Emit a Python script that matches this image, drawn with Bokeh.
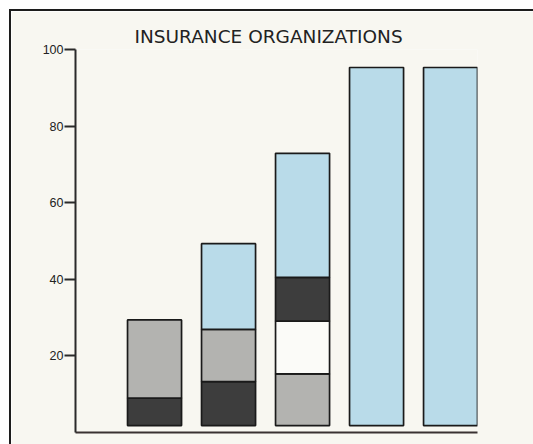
from bokeh.plotting import figure
from bokeh.models import ColumnDataSource, FixedTicker, Range1d
from bokeh.embed import file_html
from bokeh.resources import INLINE

# ---- data ----
groups = ["1", "2", "3", "4", "5"]
dark = [7.2, 11.5, 11.4, 0.0, 0.0]
gray = [20.4, 13.6, 13.5, 0.0, 0.0]
white = [0.0, 0.0, 13.8, 0.0, 0.0]
blue = [0.0, 22.4, 32.4, 93.5, 93.5]
stack_order = [["dark", "gray"], ["dark", "gray", "blue"],
               ["gray", "white", "dark", "blue"], ["blue"], ["blue"]]
y_ticks = [20, 40, 60, 80, 100]
title_text = "INSURANCE ORGANIZATIONS"
base = 1.8

series = {"dark": dark, "gray": gray, "white": white, "blue": blue}
colors = {"dark": "#3d3d3d", "gray": "#b3b3b0", "white": "#fbfbf8", "blue": "#b9dbe9"}

xs, bottoms, tops, fills = [], [], [], []
for i, g in enumerate(groups):
    cur = base
    for name in stack_order[i]:
        v = series[name][i]
        xs.append(i + 1)
        bottoms.append(cur)
        tops.append(cur + v)
        fills.append(colors[name])
        cur += v

src = ColumnDataSource(dict(x=xs, bottom=bottoms, top=tops, color=fills))

BG = "#f8f7f1"
p = figure(frame_width=402, frame_height=383, output_backend="svg", toolbar_location=None,
           x_range=Range1d(-0.068, 5.364), y_range=Range1d(0, 100),
           min_border_left=64, min_border_top=38, min_border_right=56, min_border_bottom=12,
           background_fill_color=BG, border_fill_color=BG, outline_line_color=None)
p.styles = {"margin-left": "9px", "margin-top": "9px",
            "border-top": "2px solid #1c1c1c", "border-left": "2px solid #1c1c1c"}

p.vbar(x="x", width=0.73, bottom="bottom", top="top", fill_color="color",
       line_color="#1a1a1a", line_width=1.7, source=src)

p.grid.visible = False

p.title.text = title_text
p.title.align = "left"
p.title.offset = 59
p.title.text_font = "DejaVu Sans"
p.title.text_font_size = "18.5px"
p.title.text_font_style = "normal"
p.title.text_color = "#222222"
p.title.standoff = 6

ya = p.yaxis[0]
ya.ticker = FixedTicker(ticks=y_ticks)
ya.minor_tick_line_color = None
ya.major_tick_in = 0
ya.major_tick_out = 11
ya.major_tick_line_width = 2
ya.major_tick_line_color = "#2a2a2a"
ya.axis_line_width = 2
ya.axis_line_color = "#2a2a2a"
ya.major_label_standoff = 1
ya.major_label_text_font = "Liberation Sans"
ya.major_label_text_font_size = "12.5px"
ya.major_label_text_color = "#222222"

xa = p.xaxis[0]
xa.ticker = FixedTicker(ticks=[])
xa.minor_tick_line_color = None
xa.major_tick_line_color = None
xa.axis_line_width = 2
xa.axis_line_color = "#3a3232"

html = file_html(p, INLINE)
html = html.replace("<body>", '<body style="background:%s;overflow:hidden">' % BG, 1)
open("out.html", "w").write(html)
